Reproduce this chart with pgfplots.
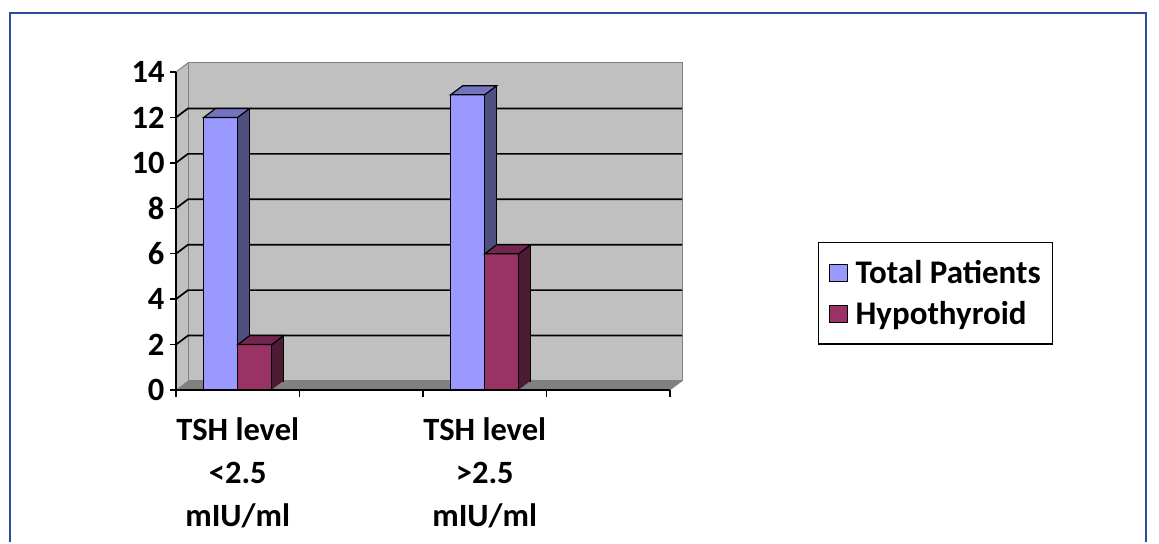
\documentclass[border=0pt]{standalone}
\usepackage{pgfplots}
\pgfplotsset{compat=1.18}
\usepackage{pgfplotstable}
\usepackage{fontspec}
\setmainfont{Carlito}
\definecolor{bfront}{RGB}{153,153,255}
\definecolor{bside}{RGB}{80,80,128}
\definecolor{btop}{RGB}{115,115,191}
\definecolor{rfront}{RGB}{153,51,102}
\definecolor{rside}{RGB}{77,26,51}
\definecolor{rtop}{RGB}{115,38,77}
\definecolor{wall}{RGB}{192,192,192}
\definecolor{floorc}{RGB}{128,128,128}
\definecolor{frameblue}{RGB}{44,74,158}

\pgfplotstableread{
x y
0 12
2 13
}\tot
\pgfplotstableread{
x y
0 2
2 6
}\hyp

\pgfdeclareplotmark{topface}{%
  \pgfpathmoveto{\pgfqpoint{-17pt}{0pt}}%
  \pgfpathlineto{\pgfqpoint{17pt}{0pt}}%
  \pgfpathlineto{\pgfqpoint{29pt}{9pt}}%
  \pgfpathlineto{\pgfqpoint{-5pt}{9pt}}%
  \pgfpathclose
  \pgfusepathqfillstroke}

\begin{document}
\begin{tikzpicture}[x=1pt,y=1pt]
\path (0,0) rectangle (1159,542);
\draw[frameblue, line width=2.5pt] (10,0) -- (10,529) -- (1146,529) -- (1146,0);
\begin{axis}[
  set layers,
  at={(176pt,152pt)}, anchor=south west,
  scale only axis, width=494pt, height=318pt,
  xmin=-0.5, xmax=3.5, ymin=0, ymax=14,
  clip=false,
  axis x line*=bottom, axis y line*=left,
  axis line style={black, line width=1.5pt},
  ytick={0,2,...,14},
  xtick={0,2},
  xticklabels={{TSH level\\<2.5\\mIU/ml},{TSH level\\>2.5\\mIU/ml}},
  minor xtick={-0.5,0.5,1.5,2.5,3.5},
  tick align=outside,
  major tick length=6pt, minor tick length=7pt,
  tick style={black, line width=1.5pt},
  major x tick style={draw=none},
  /pgf/number format/assume math mode=true,
  ticklabel style={font=\bfseries\fontsize{32.5}{43}\selectfont},
  xticklabel style={align=center, yshift=-18pt},
  yticklabel style={xshift=-2pt},
  legend style={at={(1.2996,0.4654)}, anchor=north west, draw=black, line width=1.2pt,
    font=\bfseries\fontsize{33}{38}\selectfont, row sep=12pt, column sep=6pt, inner xsep=10pt, inner ysep=16pt,
    cells={anchor=west}},
]
\begin{pgfonlayer}{axis background}
  \fill[wall] (axis cs:-0.5,0) -- ([xshift=12pt,yshift=9pt]axis cs:-0.5,0) -- ([xshift=12pt,yshift=9pt]axis cs:-0.5,14) -- (axis cs:-0.5,14) -- cycle;
  \filldraw[fill=wall, draw=floorc, line width=1pt] ([xshift=12pt,yshift=9pt]axis cs:-0.5,0) rectangle ([xshift=12pt,yshift=9pt]axis cs:3.5,14);
  \draw[floorc, line width=1pt] (axis cs:-0.5,14) -- ([xshift=12pt,yshift=9pt]axis cs:-0.5,14);
  \filldraw[fill=floorc, draw=floorc] (axis cs:-0.5,0) -- ([xshift=12pt,yshift=9pt]axis cs:-0.5,0) -- ([xshift=12pt,yshift=9pt]axis cs:3.5,0) -- (axis cs:3.5,0) -- cycle;
  \pgfplotsinvokeforeach{2,4,...,12}{
    \draw[black, line width=1.7pt] (axis cs:-0.5,#1) -- ([xshift=12pt,yshift=9pt]axis cs:-0.5,#1) -- ([xshift=12pt,yshift=9pt]axis cs:3.5,#1);
  }
\end{pgfonlayer}
% Total Patients
\addplot[ybar, bar width=34pt, bar shift=-17pt, fill=bside, draw=black, line width=1.2pt, xshift=12pt, yshift=9pt, forget plot] table {\tot};
\pgfplotsinvokeforeach{11,10,...,1}{
  \addplot[ybar, bar width=34pt, bar shift=-17pt, fill=bside, draw=none, xshift=#1pt, yshift={0.75*#1pt}, forget plot] table {\tot};
}
\addplot[ybar, bar width=34pt, bar shift=-17pt, fill=bfront, draw=black, line width=1.2pt,
  legend image code/.code={\draw[fill=bfront, draw=black, line width=1pt] (0pt,-9pt) rectangle (18pt,8pt);}] table {\tot};
\addlegendentry{Total Patients}
\addplot[only marks, mark=topface, mark options={fill=btop, draw=black, line width=1.2pt}, xshift=-17pt, forget plot] table {\tot};
% Hypothyroid
\addplot[ybar, bar width=34pt, bar shift=17pt, fill=rside, draw=black, line width=1.2pt, xshift=12pt, yshift=9pt, forget plot] table {\hyp};
\pgfplotsinvokeforeach{11,10,...,1}{
  \addplot[ybar, bar width=34pt, bar shift=17pt, fill=rside, draw=none, xshift=#1pt, yshift={0.75*#1pt}, forget plot] table {\hyp};
}
\addplot[ybar, bar width=34pt, bar shift=17pt, fill=rfront, draw=black, line width=1.2pt,
  legend image code/.code={\draw[fill=rfront, draw=black, line width=1pt] (0pt,-9pt) rectangle (18pt,8pt);}] table {\hyp};
\addlegendentry{Hypothyroid}
\addplot[only marks, mark=topface, mark options={fill=rtop, draw=black, line width=1.2pt}, xshift=17pt, forget plot] table {\hyp};
\end{axis}
\end{tikzpicture}
\end{document}
